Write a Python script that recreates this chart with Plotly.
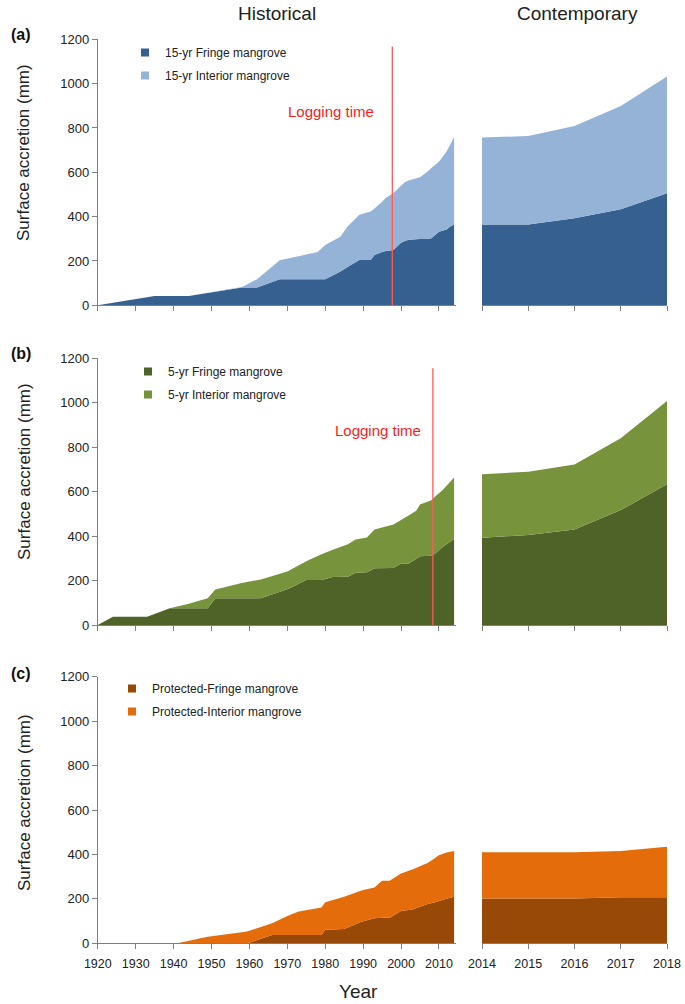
import plotly.graph_objects as go

FONT = "Liberation Sans, Arial, sans-serif"
TXT = "#222222"
AXC = "#7f7f7f"

# ---------------- data ----------------
# (a) 15-yr logged site, historical
years_a = [1920, 1935, 1944, 1958, 1962, 1968, 1978, 1980, 1984, 1986, 1989, 1992, 1993,
           1995, 1996, 1998, 2000, 2001, 2002, 2005, 2007, 2008, 2010, 2012, 2013, 2014]
fringe_15 = [0, 42, 42, 80, 80, 117, 117, 117, 153, 174, 204, 204, 227,
             241, 245, 250, 282, 290, 296, 299, 299, 302, 332, 342, 355, 364]
interior_15 = [0, 0, 0, 3, 37, 86, 123, 155, 156, 184, 205, 219, 210,
               226, 240, 257, 257, 265, 267, 279, 305, 317, 316, 352, 370, 394]

# (b) 5-yr logged site, historical
years_b = [1920, 1924, 1933, 1939, 1944, 1949, 1951, 1958, 1963, 1970, 1975, 1979, 1982,
           1986, 1988, 1991, 1993, 1998, 2000, 2002, 2004, 2005, 2008, 2009, 2011, 2014]
fringe_5 = [0, 37, 37, 75, 75, 75, 120, 120, 120, 161, 202, 202, 216,
            217, 235, 237, 255, 256, 277, 277, 297, 309, 312, 322, 351, 387]
interior_5 = [0, 0, 0, 0, 21, 45, 40, 69, 85, 80, 85, 116, 123,
              146, 150, 157, 175, 196, 196, 216, 217, 233, 249, 256, 256, 277]

# (c) protected site, historical
years_c = [1920, 1941, 1949, 1959, 1960, 1966, 1970, 1973, 1979, 1980, 1985, 1989, 1990,
           1993, 1995, 1997, 2000, 2003, 2007, 2009, 2010, 2012, 2014]
fringe_p = [0, 0, 0, 0, 3, 37, 37, 37, 37, 61, 64, 94, 99,
            113, 115, 115, 145, 152, 177, 185, 190, 200, 210]
interior_p = [0, 0, 29, 52, 54, 53, 86, 106, 124, 124, 146, 140, 141,
              138, 167, 167, 169, 180, 184, 199, 206, 209, 205]

# contemporary
years_now = [2014, 2015, 2016, 2017, 2018]
fringe_15_now = [365, 365, 393, 433, 505]
interior_15_now = [392, 399, 416, 466, 527]
fringe_5_now = [393, 405, 430, 517, 633]
interior_5_now = [285, 285, 292, 323, 375]
fringe_p_now = [202, 202, 202, 207, 207]
interior_p_now = [208, 208, 208, 208, 228]

logging_year = [1997.7, 2008.4]

names = [("15-yr Fringe mangrove", "15-yr Interior mangrove"),
         ("5-yr Fringe mangrove", "5-yr Interior mangrove"),
         ("Protected-Fringe mangrove", "Protected-Interior mangrove")]
colors = [("#36608f", "#95b3d7"), ("#4f6228", "#77933c"), ("#984807", "#e46c0a")]
hist = [(years_a, fringe_15, interior_15), (years_b, fringe_5, interior_5), (years_c, fringe_p, interior_p)]
now = [(fringe_15_now, interior_15_now), (fringe_5_now, interior_5_now), (fringe_p_now, interior_p_now)]

# ---------------- layout geometry ----------------
W, H = 685, 1004
xl = [97.8 / W, 456 / W]
xr = [482 / W, 667 / W]
rows = [(39.3, 305.3), (358.3, 625.0), (676.7, 943.3)]
ydom = [[1 - b / H, 1 - t / H] for t, b in rows]

fig = go.Figure()
legend_names = ["legend", "legend2", "legend3"]

for i in range(3):
    xa_l = "x" if i == 0 else f"x{2 * i + 1}"
    ya_l = "y" if i == 0 else f"y{2 * i + 1}"
    xa_r = f"x{2 * i + 2}"
    ya_r = f"y{2 * i + 2}"
    yrs, fr, it = hist[i]
    frn, itn = now[i]
    cf, ci = colors[i]
    sg = f"hist{i}"
    fig.add_trace(go.Scatter(x=yrs, y=fr, stackgroup=sg, mode="none", fillcolor=cf,
                             xaxis=xa_l, yaxis=ya_l, showlegend=False, hoverinfo="skip"))
    fig.add_trace(go.Scatter(x=yrs, y=it, stackgroup=sg, mode="none", fillcolor=ci,
                             xaxis=xa_l, yaxis=ya_l, showlegend=False, hoverinfo="skip"))
    sg2 = f"now{i}"
    fig.add_trace(go.Scatter(x=years_now, y=frn, stackgroup=sg2, mode="none", fillcolor=cf,
                             xaxis=xa_r, yaxis=ya_r, showlegend=False, hoverinfo="skip"))
    fig.add_trace(go.Scatter(x=years_now, y=itn, stackgroup=sg2, mode="none", fillcolor=ci,
                             xaxis=xa_r, yaxis=ya_r, showlegend=False, hoverinfo="skip"))
    # legend entries
    for nm, col in zip(names[i], (cf, ci)):
        fig.add_trace(go.Scatter(x=[None], y=[None], mode="markers", name=nm,
                                 marker=dict(symbol="square", size=8, color=col),
                                 xaxis=xa_l, yaxis=ya_l, legend=legend_names[i],
                                 legendgroup=nm))

axis_common = dict(showgrid=False, zeroline=False, showline=True, linecolor=AXC, linewidth=1,
                   ticks="outside", ticklen=5, tickcolor=AXC, tickwidth=1, automargin=False)

layout = dict(width=W, height=H, margin=dict(l=0, r=0, t=0, b=0, pad=0, autoexpand=False),
              autosize=False, template="none", hovermode=False,
              paper_bgcolor="white", plot_bgcolor="white",
              font=dict(family=FONT, size=13, color=TXT))

for i in range(3):
    kl = "xaxis" if i == 0 else f"xaxis{2 * i + 1}"
    kyl = "yaxis" if i == 0 else f"yaxis{2 * i + 1}"
    kr = f"xaxis{2 * i + 2}"
    kyr = f"yaxis{2 * i + 2}"
    yl_anchor = "y" if i == 0 else f"y{2 * i + 1}"
    xl_anchor = "x" if i == 0 else f"x{2 * i + 1}"
    last = (i == 2)
    layout[kl] = dict(axis_common, domain=xl, anchor=yl_anchor, range=[1920, 2014.5],
                      tick0=1920, dtick=10, showticklabels=last, ticklabelstandoff=4,
                      tickfont=dict(family=FONT, size=12.5, color=TXT))
    layout[kyl] = dict(axis_common, domain=ydom[i], anchor=xl_anchor, range=[0, 1200],
                       dtick=200, tickfont=dict(family=FONT, size=13, color=TXT))
    layout[kr] = dict(axis_common, domain=xr, anchor=f"y{2 * i + 2}", range=[2014, 2018],
                      dtick=1, showticklabels=last, ticklabelstandoff=4,
                      tickfont=dict(family=FONT, size=12.5, color=TXT))
    layout[kyr] = dict(domain=ydom[i], anchor=f"x{2 * i + 2}", range=[0, 1200], visible=False)

# legends
leg_pos = [(125, 38), (128, 357), (112, 674)]
for i, (lx, ly) in enumerate(leg_pos):
    layout[legend_names[i]] = dict(x=lx / W, y=1 - ly / H, xanchor="left", yanchor="top",
                                   bgcolor="rgba(0,0,0,0)", borderwidth=0,
                                   font=dict(family=FONT, size=12, color=TXT),
                                   tracegroupgap=4, traceorder="grouped", itemwidth=30)

fig.update_layout(**layout)

# logging time lines
for xa, ya, yr, ytop, tx, ty in [("x", "y", logging_year[0], 1167, 1981.4, 874),
                                  ("x3", "y3", logging_year[1], 1155, 1994, 877)]:
    fig.add_shape(type="line", xref=xa, yref=ya, x0=yr, x1=yr, y0=0, y1=ytop,
                  line=dict(color="#ff5a5a", width=1.3))
    fig.add_annotation(xref=xa, yref=ya, x=tx, y=ty, text="Logging time", showarrow=False,
                       xanchor="center", yanchor="middle",
                       font=dict(family=FONT, size=15, color="#ff1a1a"))


def label(x, y, text, size, angle=0, color=TXT):
    fig.add_annotation(xref="paper", yref="paper", x=x / W, y=1 - y / H, text=text,
                       showarrow=False, xanchor="center", yanchor="middle", textangle=angle,
                       font=dict(family=FONT, size=size, color=color))


# panel labels, titles
for lab, py in zip(["(a)", "(b)", "(c)"], [35, 353, 673]):
    label(21, py, f"<b>{lab}</b>", 16, color="#111111")
for cy in [153, 472, 803]:
    label(24, cy, "Surface accretion (mm)", 17, angle=-90)
label(277, 14, "Historical", 19)
label(577, 14, "Contemporary", 19)
label(358, 991, "Year", 19)

# the page body has a default 8px margin; remove it so the figure fills the window
fig.write_html("out.html", config={"displayModeBar": False, "staticPlot": True},
               post_script="document.body.style.margin='0';")
